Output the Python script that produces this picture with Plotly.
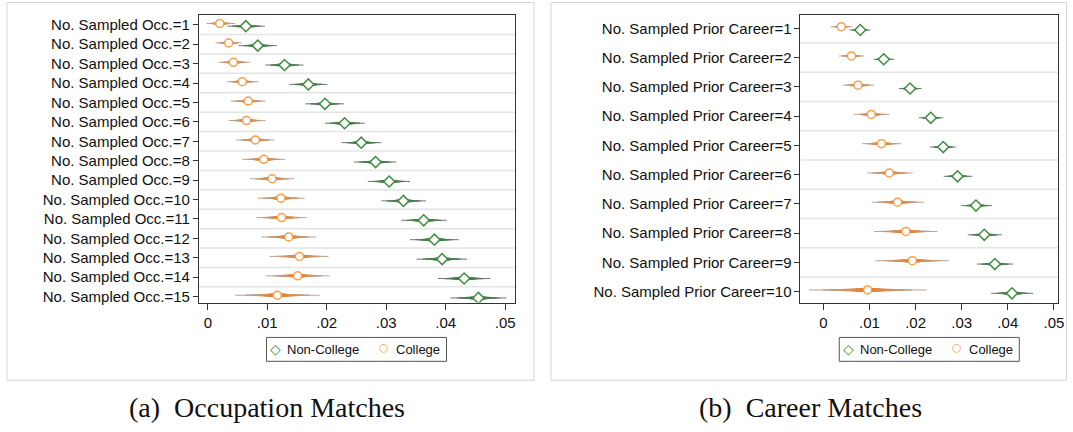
import plotly.graph_objects as go
from statistics import NormalDist

# ---------------- data ----------------
occ_labels = [f"No. Sampled Occ.={i}" for i in range(1, 16)]
occ_nc_b = [0.0064, 0.0084, 0.0129, 0.0169, 0.0197, 0.0230, 0.0258, 0.0282, 0.0305, 0.0329, 0.0363, 0.0381, 0.0394, 0.0431, 0.0455]
occ_nc_lo = [0.0033, 0.0052, 0.0097, 0.0137, 0.0164, 0.0197, 0.0225, 0.0246, 0.0269, 0.0292, 0.0325, 0.0340, 0.0351, 0.0387, 0.0408]
occ_nc_hi = [0.0096, 0.0116, 0.0161, 0.0201, 0.0229, 0.0264, 0.0292, 0.0317, 0.0340, 0.0367, 0.0402, 0.0422, 0.0436, 0.0475, 0.0502]
occ_c_b = [0.0020, 0.0035, 0.0043, 0.0058, 0.0068, 0.0065, 0.0080, 0.0094, 0.0108, 0.0123, 0.0124, 0.0136, 0.0154, 0.0151, 0.0117]
occ_c_lo = [-0.0002, 0.0013, 0.0018, 0.0032, 0.0039, 0.0035, 0.0048, 0.0058, 0.0071, 0.0084, 0.0082, 0.0090, 0.0104, 0.0098, 0.0046]
occ_c_hi = [0.0046, 0.0057, 0.0071, 0.0085, 0.0097, 0.0097, 0.0112, 0.0130, 0.0145, 0.0163, 0.0166, 0.0182, 0.0203, 0.0205, 0.0188]

car_labels = [f"No. Sampled Prior Career={i}" for i in range(1, 11)]
car_nc_b = [0.0080, 0.0131, 0.0188, 0.0233, 0.0260, 0.0291, 0.0331, 0.0349, 0.0372, 0.0409]
car_nc_lo = [0.0057, 0.0109, 0.0164, 0.0207, 0.0231, 0.0261, 0.0299, 0.0313, 0.0333, 0.0364]
car_nc_hi = [0.0102, 0.0154, 0.0213, 0.0260, 0.0288, 0.0323, 0.0366, 0.0387, 0.0412, 0.0455]
car_c_b = [0.0039, 0.0061, 0.0075, 0.0104, 0.0126, 0.0143, 0.0161, 0.0179, 0.0193, 0.0096]
car_c_lo = [0.0016, 0.0034, 0.0042, 0.0067, 0.0084, 0.0095, 0.0105, 0.0110, 0.0113, -0.0031]
car_c_hi = [0.0062, 0.0088, 0.0110, 0.0143, 0.0169, 0.0194, 0.0218, 0.0247, 0.0272, 0.0224]

x_tickvals = [0, 0.01, 0.02, 0.03, 0.04, 0.05]
x_ticktext = ["0", ".01", ".02", ".03", ".04", ".05"]
series_names = ["Non-College", "College"]
captions = ["(a)\u00a0 Occupation Matches", "(b)\u00a0 Career Matches"]

# ---------------- styling ----------------
W, H = 1073, 432
FONT = "Liberation Sans, Arial, sans-serif"
GREEN_MK, ORANGE_MK = "#3f8f42", "#f5a04c"
GREEN_CORE, GREEN_OUT = (46, 122, 50), (105, 122, 106)
ORANGE_CORE, ORANGE_OUT = (233, 128, 40), (185, 163, 148)

levels = [0.99, 0.95, 0.90, 0.80, 0.70, 0.60, 0.50, 0.40, 0.30, 0.20]
widths = [1.0, 1.25, 1.5, 1.9, 2.3, 2.6, 3.0, 3.3, 3.6, 4.0]
Z99 = NormalDist().inv_cdf(0.995)


def mix(a, b, t):
    return "rgb(%d,%d,%d)" % tuple(round(a[i] * (1 - t) + b[i] * t) for i in range(3))


def px(x):
    return x / W


def py(y):
    return 1 - y / H


fig = go.Figure()


def add_series(b, lo, hi, off, core, outer, mk_color, symbol, size, xa, ya):
    n = len(b)
    ypos = [i + 1 + off for i in range(n)]
    # faint wide innermost blob
    f = NormalDist().inv_cdf(0.52) / Z99
    xs, ys = [], []
    for bi, l, h, yy in zip(b, lo, hi, ypos):
        xs += [bi - f * (bi - l), bi + f * (h - bi), None]
        ys += [yy, yy, None]
    fig.add_trace(go.Scatter(x=xs, y=ys, mode="lines", xaxis=xa, yaxis=ya, showlegend=False,
                             hoverinfo="skip", line=dict(color=mix(core, (255, 255, 255), 0.8), width=9)))
    for k, (L, w) in enumerate(zip(levels, widths)):
        f = NormalDist().inv_cdf(0.5 + L / 2) / Z99
        t = k / (len(levels) - 1)
        xs, ys = [], []
        for bi, l, h, yy in zip(b, lo, hi, ypos):
            xs += [bi - f * (bi - l), bi + f * (h - bi), None]
            ys += [yy, yy, None]
        fig.add_trace(go.Scatter(x=xs, y=ys, mode="lines", xaxis=xa, yaxis=ya, showlegend=False,
                                 hoverinfo="skip", line=dict(color=mix(outer, core, t ** 0.8), width=w)))
    fig.add_trace(go.Scatter(x=b, y=ypos, mode="markers", xaxis=xa, yaxis=ya, showlegend=False,
                             marker=dict(symbol=symbol, size=size, color="white",
                                         line=dict(color=mk_color, width=1.5))))


panels = [
    dict(xa="x", ya="y", labels=occ_labels,
         nc=(occ_nc_b, occ_nc_lo, occ_nc_hi), c=(occ_c_b, occ_c_lo, occ_c_hi),
         box=(200, 518), xr=[-0.0015, 0.05167], yr=[15.31, 0.49], off=0.07,
         frame=(7, 537), leg=268, cap=269),
    dict(xa="x2", ya="y2", labels=car_labels,
         nc=(car_nc_b, car_nc_lo, car_nc_hi), c=(car_c_b, car_c_lo, car_c_hi),
         box=(805, 1064), xr=[-0.00495, 0.0509], yr=[10.374, 0.541], off=0.057,
         frame=(554, 1072.5), leg=844, cap=815),
]

shapes, annotations = [], []
TOP, BOT = 15, 304

for p_i, p in enumerate(panels):
    nc_b, nc_lo, nc_hi = p["nc"]
    c_b, c_lo, c_hi = p["c"]
    add_series(c_b, c_lo, c_hi, -p["off"], ORANGE_CORE, ORANGE_OUT, ORANGE_MK, "circle", 8, p["xa"], p["ya"])
    add_series(nc_b, nc_lo, nc_hi, p["off"], GREEN_CORE, GREEN_OUT, GREEN_MK, "diamond", 8.5, p["xa"], p["ya"])

    suffix = "" if p_i == 0 else "2"
    xkey, ykey = "xaxis" + suffix, "yaxis" + suffix
    fig.update_layout(**{
        xkey: dict(domain=[px(p["box"][0]), px(p["box"][1])], range=p["xr"], anchor=p["ya"],
                   tickvals=x_tickvals, ticktext=x_ticktext, ticks="outside", ticklen=6,
                   tickcolor="#333", showline=True, mirror=True, linecolor="#333", linewidth=1,
                   showgrid=False, zeroline=False, tickfont=dict(family=FONT, size=15, color="#111")),
        ykey: dict(domain=[py(BOT), py(TOP)], range=p["yr"], anchor=p["xa"],
                   tickvals=list(range(1, len(p["labels"]) + 1)), ticktext=p["labels"],
                   ticks="outside", ticklen=5, tickcolor="#333", showline=True, mirror=True,
                   linecolor="#333", linewidth=1, showgrid=False, zeroline=False,
                   tickfont=dict(family=FONT, size=15, color="#111")),
    })
    # between-row gridlines
    for k in range(1, len(p["labels"])):
        shapes.append(dict(type="line", xref=p["xa"] + " domain", yref=p["ya"], x0=0, x1=1,
                           y0=k + 0.5, y1=k + 0.5, layer="below",
                           line=dict(color="#e4e4e4", width=1.5)))
    # outer light frame
    shapes.append(dict(type="rect", xref="paper", yref="paper", x0=px(p["frame"][0]), x1=px(p["frame"][1]),
                       y0=py(382), y1=py(2.5), line=dict(color="#d6d6d6", width=1), layer="below"))
    # legend box
    L0 = p["leg"]
    shapes.append(dict(type="rect", xref="paper", yref="paper", x0=px(L0), x1=px(L0 + 181),
                       y0=py(363), y1=py(339), line=dict(color="#555", width=1), fillcolor="white"))
    annotations += [
        dict(xref="paper", yref="paper", x=px(L0 + 9), y=py(350.5), text="◇", showarrow=False,
             xanchor="center", yanchor="middle", font=dict(family="DejaVu Sans", size=14, color=GREEN_MK)),
        dict(xref="paper", yref="paper", x=px(L0 + 19), y=py(351), text=series_names[0], showarrow=False,
             xanchor="left", yanchor="middle", font=dict(family=FONT, size=13, color="#111")),
        dict(xref="paper", yref="paper", x=px(L0 + 118), y=py(349.5), text="○", showarrow=False,
             xanchor="center", yanchor="middle", font=dict(family="DejaVu Sans", size=11, color=ORANGE_MK)),
        dict(xref="paper", yref="paper", x=px(L0 + 128), y=py(351), text=series_names[1], showarrow=False,
             xanchor="left", yanchor="middle", font=dict(family=FONT, size=13, color="#111")),
        dict(xref="paper", yref="paper", x=px(p["cap"]), y=py(409), text=captions[p_i], showarrow=False,
             xanchor="center", yanchor="middle",
             font=dict(family="Liberation Serif, Times New Roman, serif", size=28, color="#111")),
    ]

fig.update_layout(width=W, height=H, autosize=False, margin=dict(l=0, r=0, t=0, b=0),
                  paper_bgcolor="white", plot_bgcolor="white", showlegend=False,
                  shapes=shapes, annotations=annotations)

fig.write_html("out.html")
